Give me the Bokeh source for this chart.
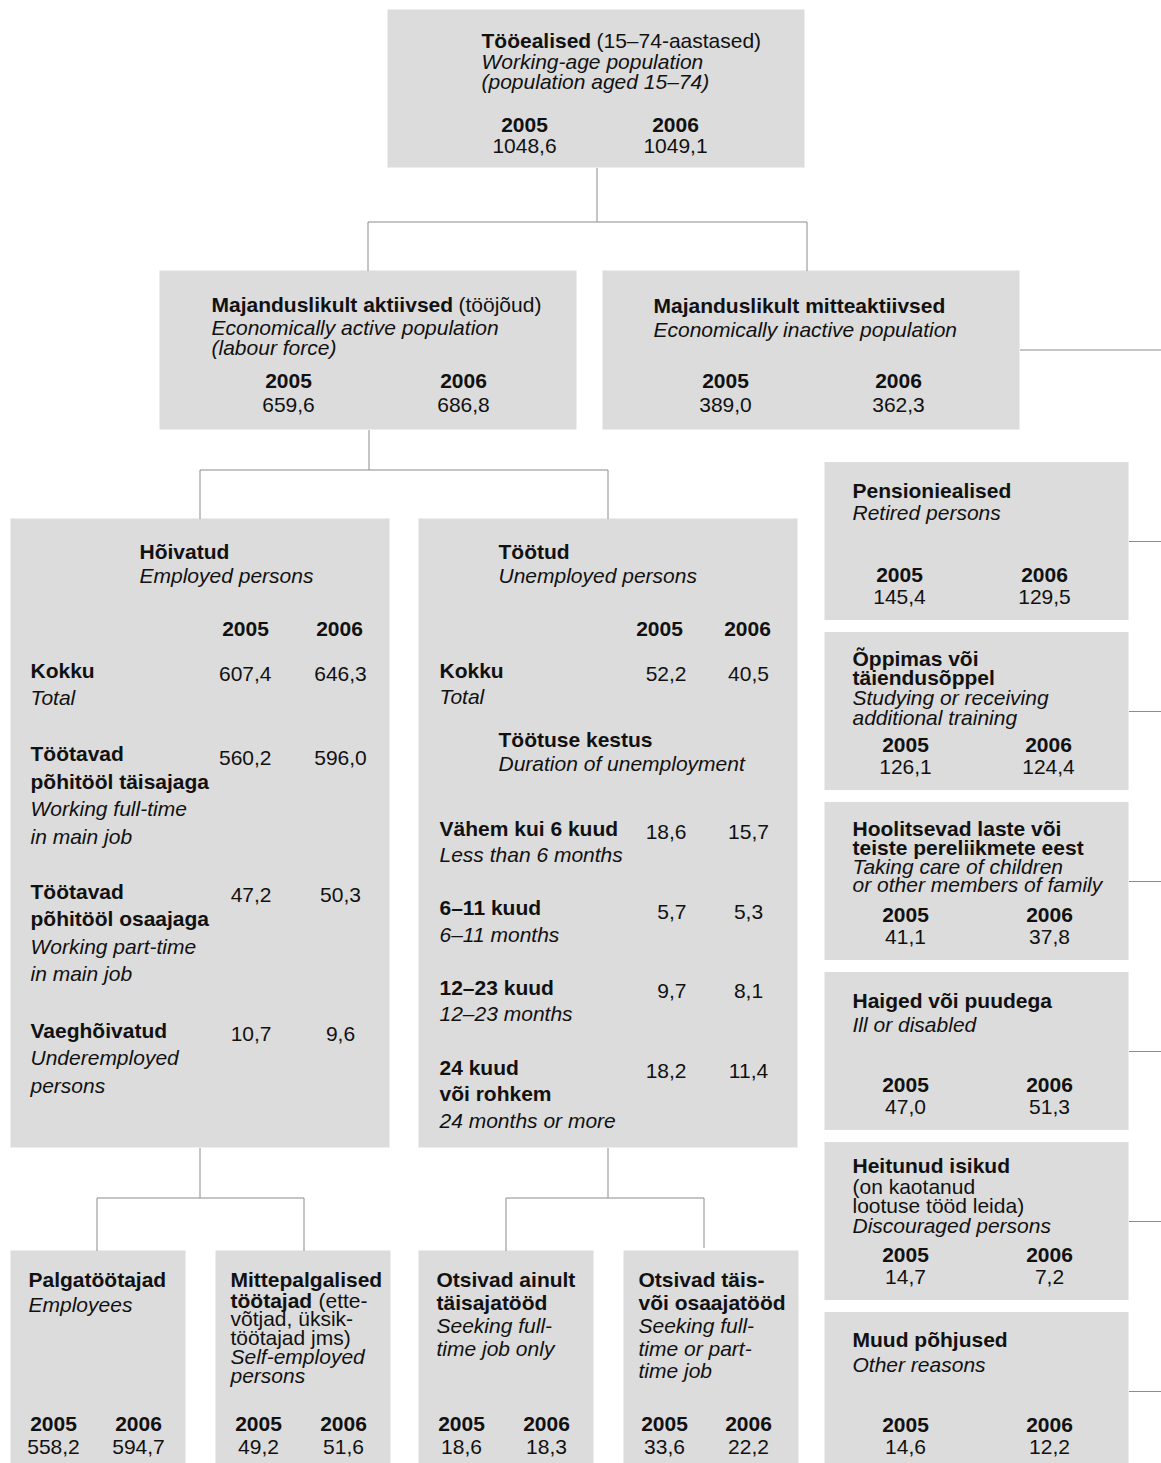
from bokeh.plotting import figure
from bokeh.models import Range1d, ColumnDataSource
from bokeh.core.properties import value
from bokeh.embed import file_html
from bokeh.resources import INLINE

# ---------------- data ----------------
years = ["2005", "2006"]

working_age_et = "Tööealised"
working_age_note = "(15–74-aastased)"
working_age_en = ["Working-age population", "(population aged 15–74)"]
working_age = [1048.6, 1049.1]

active_et = "Majanduslikult aktiivsed"
active_note = "(tööjõud)"
active_en = ["Economically active population", "(labour force)"]
active = [659.6, 686.8]

inactive_et = "Majanduslikult mitteaktiivsed"
inactive_en = ["Economically inactive population"]
inactive = [389.0, 362.3]

employed_et = "Hõivatud"
employed_en = "Employed persons"
employed_rows_et = [["Kokku"], ["Töötavad", "põhitööl täisajaga"],
                    ["Töötavad", "põhitööl osaajaga"], ["Vaeghõivatud"]]
employed_rows_en = [["Total"], ["Working full-time", "in main job"],
                    ["Working part-time", "in main job"], ["Underemployed", "persons"]]
employed_2005 = [607.4, 560.2, 47.2, 10.7]
employed_2006 = [646.3, 596.0, 50.3, 9.6]

unemployed_et = "Töötud"
unemployed_en = "Unemployed persons"
duration_et = "Töötuse kestus"
duration_en = "Duration of unemployment"
unemployed_rows_et = [["Kokku"], ["Vähem kui 6 kuud"], ["6–11 kuud"], ["12–23 kuud"],
                      ["24 kuud", "või rohkem"]]
unemployed_rows_en = [["Total"], ["Less than 6 months"], ["6–11 months"], ["12–23 months"],
                      ["24 months or more"]]
unemployed_2005 = [52.2, 18.6, 5.7, 9.7, 18.2]
unemployed_2006 = [40.5, 15.7, 5.3, 8.1, 11.4]

reasons_et = [["Pensioniealised"], ["Õppimas või", "täiendusõppel"],
              ["Hoolitsevad laste või", "teiste pereliikmete eest"], ["Haiged või puudega"],
              ["Heitunud isikud"], ["Muud põhjused"]]
reasons_note = [[], [], [], [], ["(on kaotanud", "lootuse tööd leida)"], []]
reasons_en = [["Retired persons"], ["Studying or receiving", "additional training"],
              ["Taking care of children", "or other members of family"], ["Ill or disabled"],
              ["Discouraged persons"], ["Other reasons"]]
reasons_2005 = [145.4, 126.1, 41.1, 47.0, 14.7, 14.6]
reasons_2006 = [129.5, 124.4, 37.8, 51.3, 7.2, 12.2]

bottom_et = [["Palgatöötajad"], ["Mittepalgalised", "töötajad"],
             ["Otsivad ainult", "täisajatööd"], ["Otsivad täis-", "või osaajatööd"]]
bottom_note = [[], ["(ette-", "võtjad, üksik-", "töötajad jms)"], [], []]
bottom_en = [["Employees"], ["Self-employed", "persons"], ["Seeking full-", "time job only"],
             ["Seeking full-", "time or part-", "time job"]]
bottom_2005 = [558.2, 49.2, 18.6, 33.6]
bottom_2006 = [594.7, 51.6, 18.3, 22.2]


def fmt(v):
    return f"{v:.1f}".replace(".", ",")


# ---------------- figure ----------------
W, H = 1161, 1463
p = figure(width=W, height=H, x_range=Range1d(0, W), y_range=Range1d(H, 0),
           output_backend="svg", toolbar_location=None, x_axis_type=None, y_axis_type=None,
           min_border=0)
p.outline_line_color = None
p.background_fill_color = "white"
p.border_fill_color = "white"

FILL = "#dcdcdc"
LINE = "#8c8c8c"
FONT = "Liberation Sans"
FS = "21px"
TXT = "#111111"

boxes = {"l": [], "r": [], "t": [], "b": []}


def box(l, r, t, b):
    boxes["l"].append(l); boxes["r"].append(r); boxes["t"].append(t); boxes["b"].append(b)


lines = {"xs": [], "ys": []}


def seg(x0, y0, x1, y1):
    lines["xs"].append([x0 + 0.5, x1 + 0.5])
    lines["ys"].append([y0 + 0.5, y1 + 0.5])


texts = {}


def T(x, y, s, style="normal", align="left"):
    d = texts.setdefault((style, align), {"x": [], "y": [], "text": []})
    d["x"].append(x); d["y"].append(y - 0.5); d["text"].append(s)


# ---- top box ----
box(387, 804, 9, 167)
T(481, 40, working_age_et, "bold")
T(596, 40, working_age_note)
T(481, 61, working_age_en[0], "italic")
T(481, 81, working_age_en[1], "italic")
for cx, yr, v in zip([524, 675], years, working_age):
    T(cx, 125, yr, "bold", "center")
    T(cx, 146, fmt(v), "normal", "center")

seg(596, 167, 596, 221)
seg(367, 221, 806, 221)
seg(367, 221, 367, 270)
seg(806, 221, 806, 270)

# ---- level 2 ----
box(159, 576, 270, 429)
T(211, 304, active_et, "bold")
T(458, 304, active_note)
T(211, 327, active_en[0], "italic")
T(211, 347, active_en[1], "italic")
for cx, yr, v in zip([288, 463], years, active):
    T(cx, 381, yr, "bold", "center")
    T(cx, 405, fmt(v), "normal", "center")

box(602, 1019, 270, 429)
T(653, 305, inactive_et, "bold")
T(653, 329, inactive_en[0], "italic")
for cx, yr, v in zip([725, 898], years, inactive):
    T(cx, 381, yr, "bold", "center")
    T(cx, 405, fmt(v), "normal", "center")

seg(1019, 349, 1161, 349)
seg(368, 429, 368, 469)
seg(199, 469, 607, 469)
seg(199, 469, 199, 518)
seg(607, 469, 607, 518)

# ---- employed ----
box(10, 389, 518, 1147)
T(139, 551, employed_et, "bold")
T(139, 575, employed_en, "italic")
T(245, 629, years[0], "bold", "center")
T(339, 629, years[1], "bold", "center")
emp_row_y = [670, 753.5, 891, 1030]
for ry, et, en, v5, v6 in zip(emp_row_y, employed_rows_et, employed_rows_en,
                              employed_2005, employed_2006):
    y = ry
    for s in et:
        T(30, y, s, "bold"); y += 27.5
    for s in en:
        T(30, y, s, "italic"); y += 27.5
    T(271, ry + 4, fmt(v5), "normal", "right")
    T(340, ry + 4, fmt(v6), "normal", "center")

# ---- unemployed ----
box(418, 797, 518, 1147)
T(498, 551, unemployed_et, "bold")
T(498, 575, unemployed_en, "italic")
T(659, 629, years[0], "bold", "center")
T(747, 629, years[1], "bold", "center")
T(498, 739, duration_et, "bold")
T(498, 763, duration_en, "italic")
unemp_row_y = [670, 828, 907.5, 987, 1067]
for ry, et, en, v5, v6 in zip(unemp_row_y, unemployed_rows_et, unemployed_rows_en,
                              unemployed_2005, unemployed_2006):
    y = ry
    for s in et:
        T(439, y, s, "bold"); y += 26.5
    for s in en:
        T(439, y, s, "italic"); y += 26.5
    T(686, ry + 4, fmt(v5), "normal", "right")
    T(748, ry + 4, fmt(v6), "normal", "center")

# ---- connectors below level 3 ----
seg(199, 1147, 199, 1197)
seg(96, 1197, 303, 1197)
seg(96, 1197, 96, 1250)
seg(303, 1197, 303, 1250)
seg(607, 1147, 607, 1197)
seg(505, 1197, 703, 1197)
seg(505, 1197, 505, 1250)
seg(703, 1197, 703, 1247)

# ---- bottom boxes ----
bottom_left = [10, 215, 418, 623]
bottom_text_x = [28, 230, 436, 638]
bottom_year_x = [(53, 138), (258, 343), (461, 546), (664, 748)]
bottom_line_y = [[1279.5, 1304],
                 [1279.5, 1300, 1318.5, 1337, 1356, 1375],
                 [1279.5, 1302.5, 1325.5, 1348],
                 [1279.5, 1302.5, 1325.5, 1348, 1370.5]]
for i in range(4):
    box(bottom_left[i], bottom_left[i] + 175, 1250, 1470)
    ys = iter(bottom_line_y[i])
    tx = bottom_text_x[i]
    et = bottom_et[i]
    note = bottom_note[i]
    for j, s in enumerate(et):
        y = next(ys)
        T(tx, y, s, "bold")
        if note and j == len(et) - 1:
            T(318, y, note[0])
    for s in note[1:]:
        T(tx, next(ys), s)
    for s in bottom_en[i]:
        T(tx, next(ys), s, "italic")
    for cx, yr, v in zip(bottom_year_x[i], years, [bottom_2005[i], bottom_2006[i]]):
        T(cx, 1423.5, yr, "bold", "center")
        T(cx, 1446.5, fmt(v), "normal", "center")

# ---- right column (inactive reasons) ----
right_tops = [461.5, 631.5, 801.5, 971.5, 1141.5, 1311.5]
right_line_off = [[28.5, 51],
                  [27, 46, 66, 86],
                  [27, 45.5, 64.5, 83],
                  [29, 52.5],
                  [23.5, 44.5, 64, 84],
                  [27.5, 52.5]]
right_year_x = [(899, 1044), (905, 1048), (905, 1049), (905, 1049), (905, 1049), (905, 1049)]
for i, top in enumerate(right_tops):
    box(824, 1128, top, top + 158)
    seg(1128, top + 79, 1161, top + 79)
    offs = iter(right_line_off[i])
    for s in reasons_et[i]:
        T(852, top + next(offs), s, "bold")
    for s in reasons_note[i]:
        T(852, top + next(offs), s)
    for s in reasons_en[i]:
        T(852, top + next(offs), s, "italic")
    for cx, yr, v in zip(right_year_x[i], years, [reasons_2005[i], reasons_2006[i]]):
        T(cx, top + 113.5, yr, "bold", "center")
        T(cx, top + 135.5, fmt(v), "normal", "center")

# ---------------- draw ----------------
p.quad(left="l", right="r", top="t", bottom="b", source=ColumnDataSource(boxes),
       fill_color=FILL, line_color=None)
p.multi_line(xs="xs", ys="ys", source=ColumnDataSource(lines), line_color=LINE, line_width=1)
for (style, align), d in texts.items():
    p.text(x="x", y="y", text="text", source=ColumnDataSource(d),
           text_font=value(FONT), text_font_size=FS, text_font_style=style,
           text_align=align, text_baseline="alphabetic", text_color=TXT)

open("out.html", "w").write(file_html(p, INLINE))
